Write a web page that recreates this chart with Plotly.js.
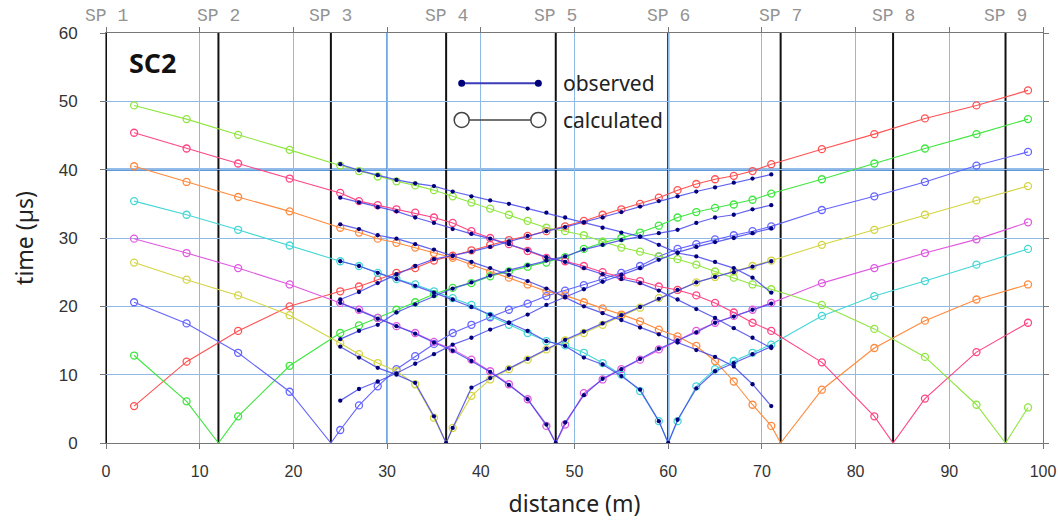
<!DOCTYPE html>
<html><head><meta charset="utf-8">
<script src="https://cdn.plot.ly/plotly-3.0.1.min.js"></script>
<style>html,body{margin:0;padding:0;background:#fff}#chart{width:1058px;height:525px}</style>
</head><body><div id="chart"></div>
<script>
// ---- data ----
const geophones = [25,27,29,31,33,35,37,39,41,43,45,47,49,51,53,55,57,59,61,63,65,67,69,71];
const outerLeft = [3.0, 8.6, 14.1, 19.6];
const outerRight = [76.4, 82.0, 87.4, 92.9, 98.4];
const spX = [0, 12, 24, 36.3, 48, 60, 72, 84, 96];
const spLabels = ['SP 1','SP 2','SP 3','SP 4','SP 5','SP 6','SP 7','SP 8','SP 9'];
const shotColors = ['#ff5252','#3fe63f','#6464ff','#d4d443','#e058e0','#45d6d6','#ff8a3d','#ff4585','#8fe63f'];

// calculated: outerLeft (4) + geophones (24) + outerRight (5)
const calc1 = [5.4,11.9,16.4,20.0, 22.2,22.9,23.9,24.9,25.6,26.7,27.4,28.2,29.0,29.7,30.3,31.0,31.7,32.5,33.4,34.2,35.0,35.9,37.0,37.9,38.6,39.1,39.8,40.8, 43.0,45.2,47.5,49.4,51.6];
const calc2 = [12.8,6.1,3.9,11.3, 16.1,17.2,18.3,19.5,20.6,21.8,22.7,23.4,24.4,25.1,25.8,26.4,27.2,28.4,29.3,30.0,30.8,31.8,33.0,33.8,34.4,34.9,35.6,36.5, 38.6,40.9,43.1,45.2,47.4];
const calc3 = [20.6,17.5,13.2,7.5, 1.9,5.5,8.3,10.8,12.7,14.5,16.1,17.3,18.4,19.5,20.4,21.5,22.3,23.1,24.0,24.9,25.9,27.3,28.4,29.1,29.8,30.4,31.0,31.7, 34.1,36.1,38.2,40.6,42.6];
const calc4 = [26.4,23.9,21.6,18.7, 14.6,13.0,11.7,10.5,8.6,3.7,2.2,6.9,9.3,10.8,12.2,13.7,15.0,16.1,17.3,18.6,19.8,21.2,22.4,23.5,24.3,25.1,25.9,26.7, 29.0,31.2,33.4,35.5,37.6];
const calc5 = [29.9,27.8,25.6,23.2, 20.5,19.5,18.3,17.1,16.1,14.8,13.7,12.2,10.5,8.6,6.4,2.5,2.7,7.3,9.3,10.8,12.2,13.7,15.1,16.4,17.6,18.6,19.5,20.5, 23.4,25.6,27.8,29.8,32.3];
const calc6 = [35.4,33.4,31.2,28.9, 26.6,25.9,24.9,24.0,23.2,22.2,21.2,20.2,18.6,17.3,16.1,14.9,14.3,13.2,11.7,10.0,7.6,3.2,3.2,8.3,10.8,12.0,13.2,14.4, 18.6,21.5,23.7,26.1,28.4];
const calc7 = [40.5,38.2,36.0,33.9, 31.5,30.8,29.9,29.3,28.6,27.8,27.1,26.1,25.1,24.2,23.2,22.2,21.6,20.6,19.7,18.8,17.8,16.6,15.6,14.2,12.0,9.0,5.6,2.5, 7.8,13.9,17.9,21.0,23.2];
const calc8 = [45.4,43.1,40.9,38.7, 36.6,35.4,34.8,34.2,33.7,33.0,32.2,31.0,30.0,29.1,28.1,27.1,26.6,25.9,25.0,24.3,23.7,22.9,22.4,21.6,20.5,19.1,17.6,16.4, 11.8,3.9,6.5,13.3,17.6];
const calc9 = [49.4,47.4,45.1,42.9, 40.6,39.8,39.0,38.3,37.7,37.0,36.1,35.2,34.3,33.4,32.5,31.5,31.0,30.4,29.5,28.6,28.0,27.3,26.9,26.1,25.1,24.2,23.2,22.5, 20.2,16.7,12.6,5.6,5.2];

// observed at geophones
const obs1 = [21.0,22.1,23.4,24.7,25.9,26.9,27.4,28.0,28.7,29.5,30.3,31.0,31.6,32.3,33.0,33.8,34.6,35.4,36.1,36.8,37.4,38.1,38.7,39.3];
const obs2 = [15.2,16.4,17.3,19.1,20.3,21.5,22.6,23.5,24.5,25.3,26.0,26.7,27.3,28.3,29.0,29.7,30.2,30.7,31.2,32.2,33.0,33.4,34.2,34.8];
const obs3 = [6.2,7.9,9.0,10.2,11.6,13.0,14.4,15.4,16.6,17.6,18.8,20.2,21.4,22.5,23.6,24.6,25.6,26.8,27.9,28.7,29.4,30.0,30.7,31.4];
const obs4 = [14.1,12.5,11.0,10.0,8.8,3.9,2.2,8.1,9.5,10.9,12.3,13.8,15.1,16.3,17.5,18.7,19.9,21.1,22.4,23.5,24.3,25.0,25.8,26.6];
const obs5 = [20.5,19.4,18.2,17.1,16.0,14.7,13.5,12.0,10.4,8.5,6.4,2.7,3.0,7.0,9.4,10.8,12.3,13.8,15.0,16.2,17.6,18.5,19.5,20.4];
const obs6 = [26.6,25.9,24.9,24.0,23.0,22.0,21.0,19.9,18.8,17.6,16.4,14.9,14.2,12.5,11.5,9.8,7.8,3.2,3.4,8.0,10.5,11.7,13.0,14.1];
const obs7 = [32.0,31.3,30.4,29.9,29.1,28.3,27.4,26.5,25.6,24.6,23.7,22.6,21.3,20.0,19.0,18.0,16.9,15.9,14.7,13.6,12.6,11.2,8.6,5.4];
const obs8 = [35.9,35.2,34.5,33.9,33.0,32.2,31.3,30.6,29.9,29.1,28.2,27.2,26.5,25.6,24.7,24.0,23.4,22.3,21.0,19.6,18.3,16.8,15.4,13.9];
const obs9 = [40.8,39.9,39.2,38.5,38.0,37.6,36.8,36.1,35.5,35.0,34.3,33.7,33.0,32.3,31.5,30.8,30.2,29.0,27.8,27.3,26.5,25.6,24.2,22.0];

// ---- build ----
const calcX = outerLeft.concat(geophones, outerRight);
const calcTimes = [calc1,calc2,calc3,calc4,calc5,calc6,calc7,calc8,calc9];
const obsTimes = [obs1,obs2,obs3,obs4,obs5,obs6,obs7,obs8,obs9];

function addSource(xs, ys, sp){
  const pts = xs.map((x,i)=>[x, ys[i]]);
  if (sp > xs[0] && sp < xs[xs.length-1]) pts.push([sp, 0]);
  pts.sort((a,b)=>a[0]-b[0]);
  return {x: pts.map(p=>p[0]), y: pts.map(p=>p[1])};
}

const traces = [];
calcTimes.forEach((t,i)=>{
  const l = addSource(calcX, t, spX[i]);
  traces.push({x:l.x, y:l.y, mode:'lines', type:'scatter', showlegend:false, hoverinfo:'skip',
    line:{color:shotColors[i], width:1.1}});
  traces.push({x:calcX, y:t, mode:'markers', type:'scatter', showlegend:false, name:spLabels[i]+' calculated',
    marker:{symbol:'circle-open', size:7, color:shotColors[i], line:{width:1.3, color:shotColors[i]}}});
});
obsTimes.forEach((t,i)=>{
  const l = addSource(geophones, t, spX[i]);
  traces.push({x:l.x, y:l.y, mode:'lines+markers', type:'scatter', showlegend:false, name:spLabels[i]+' observed',
    line:{color:'rgba(70,70,235,0.85)', width:1.2},
    marker:{size:4.3, color:'#00007a'}});
});

const shapes = [];
// darker grid lines
shapes.push({type:'line', xref:'x', yref:'paper', x0:30, x1:30, y0:0, y1:1, layer:'below', line:{color:'#3a86d8', width:1.6}});
shapes.push({type:'line', xref:'paper', yref:'y', x0:0, x1:1, y0:40, y1:40, layer:'below', line:{color:'#2a78d4', width:2.2}});
// shot point lines
spX.forEach(sp=>{
  shapes.push({type:'line', xref:'x', yref:'paper', x0:sp, x1:sp, y0:0, y1:1, layer:'below', line:{color:'#111', width:2}});
});
// legend drawing
const lx0 = 0.3796, lx1 = 0.4614, ly1 = 0.8775, ly2 = 0.788;
shapes.push({type:'line', xref:'paper', yref:'paper', x0:lx0, x1:lx1, y0:ly1, y1:ly1, line:{color:'#3a3ab8', width:2}});
[lx0,lx1].forEach(px=>{
  shapes.push({type:'circle', xref:'paper', yref:'paper', xsizemode:'pixel', ysizemode:'pixel', xanchor:px, yanchor:ly1,
    x0:-3.5, x1:3.5, y0:-3.5, y1:3.5, fillcolor:'#00007a', line:{width:0}});
});
shapes.push({type:'line', xref:'paper', yref:'paper', x0:lx0, x1:lx1, y0:ly2, y1:ly2, line:{color:'#444', width:1.5}});
[lx0,lx1].forEach(px=>{
  shapes.push({type:'circle', xref:'paper', yref:'paper', xsizemode:'pixel', ysizemode:'pixel', xanchor:px, yanchor:ly2,
    x0:-7.5, x1:7.5, y0:-7.5, y1:7.5, fillcolor:'#fff', line:{color:'#444', width:1.5}});
});

const annotations = spLabels.map((s,i)=>({
  text:s, xref:'x', x:spX[i], yref:'paper', y:1, yanchor:'middle', xanchor:'center', yshift:17, showarrow:false,
  font:{family:'Liberation Mono, DejaVu Sans Mono, monospace', size:18, color:'#939393'}
}));
annotations.push({text:'<b>SC2</b>', xref:'paper', yref:'paper', x:0.05, y:0.929, xanchor:'center', yanchor:'middle', showarrow:false,
  font:{family:'Open Sans, Noto Sans, sans-serif', size:27, color:'#111'}});
annotations.push({text:'observed', xref:'paper', yref:'paper', x:0.4856, y:ly1, xanchor:'left', yanchor:'middle', showarrow:false,
  font:{family:'Noto Sans, Open Sans, sans-serif', size:21, color:'#222'}});
annotations.push({text:'calculated', xref:'paper', yref:'paper', x:0.4856, y:ly2, xanchor:'left', yanchor:'middle', showarrow:false,
  font:{family:'Noto Sans, Open Sans, sans-serif', size:21, color:'#222'}});

const layout = {
  width:1058, height:525,
  margin:{l:106, r:15, t:33, b:82},
  paper_bgcolor:'#fff', plot_bgcolor:'#fff',
  showlegend:false,
  xaxis:{range:[0,100], dtick:10, tick0:0, showgrid:true, gridcolor:'#8fbae6', gridwidth:1,
    zeroline:false, showline:true, linecolor:'#777', linewidth:1, mirror:'ticks',
    ticks:'outside', ticklen:5, tickcolor:'#777', ticklabelstandoff:9,
    tickfont:{family:'Liberation Sans, Arial, sans-serif', size:16, color:'#333'},
    title:{text:'distance (m)', standoff:16, font:{family:'Noto Sans, Open Sans, sans-serif', size:23, color:'#222'}}},
  yaxis:{range:[0,60], dtick:10, tick0:0, showgrid:true, gridcolor:'#8fbae6', gridwidth:1,
    zeroline:false, showline:true, linecolor:'#777', linewidth:1, mirror:'ticks',
    ticks:'outside', ticklen:5, tickcolor:'#777', ticklabelstandoff:19,
    tickfont:{family:'Liberation Sans, Arial, sans-serif', size:17, color:'#333'},
    title:{text:'time (µs)', standoff:18, font:{family:'Noto Sans, Open Sans, sans-serif', size:23, color:'#222'}}},
  shapes:shapes,
  annotations:annotations
};

Plotly.newPlot('chart', traces, layout, {displayModeBar:false, staticPlot:true});
</script></body></html>
